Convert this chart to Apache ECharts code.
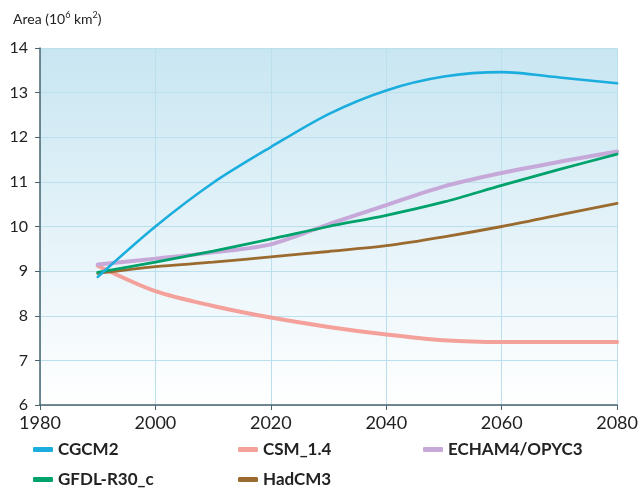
<!DOCTYPE html>
<html><head><meta charset="utf-8">
<script src="https://cdn.jsdelivr.net/npm/echarts@6/dist/echarts.min.js"></script>
<style>html,body{margin:0;padding:0;background:#fff}#c{width:641px;height:502px}</style>
</head><body><div id="c"></div>
<script>
const years = [1990, 2000, 2010, 2020, 2030, 2040, 2050, 2060, 2070, 2080];
const cgcm2 = [8.87, 10.0, 10.98, 11.78, 12.52, 13.05, 13.36, 13.46, 13.34, 13.21];
const csm14 = [9.12, 8.55, 8.22, 7.96, 7.75, 7.58, 7.45, 7.41, 7.41, 7.41];
const echam = [9.15, 9.28, 9.42, 9.6, 10.05, 10.48, 10.9, 11.2, 11.45, 11.68];
const gfdl = [8.97, 9.2, 9.45, 9.72, 10.0, 10.25, 10.55, 10.92, 11.28, 11.62];
const hadcm3 = [8.95, 9.1, 9.2, 9.32, 9.44, 9.57, 9.77, 10.0, 10.26, 10.52];
const xTicks = [1980, 2000, 2020, 2040, 2060, 2080];
const yTicks = [6, 7, 8, 9, 10, 11, 12, 13, 14];

const pairs = arr => years.map((y, i) => [y, arr[i]]);
const chart = echarts.init(document.getElementById('c'));
const font = 'Lato, "Open Sans", sans-serif';
function mk(name, arr, color, w) {
  return { name, type: 'line', data: pairs(arr), smooth: 0.3, showSymbol: false,
    lineStyle: { color, width: w, cap: 'round' }, itemStyle: { color } };
}
const legendPos = [
  ['CGCM2', 28, 436], ['CSM_1.4', 233, 436], ['ECHAM4/OPYC3', 418, 436],
  ['GFDL-R30_c', 28, 466], ['HadCM3', 233, 466]
];
chart.setOption({
  animation: false,
  title: {
    text: '{a|Area (10}{s|6}{a| km}{s|2}{a|)}', left: 8, top: 6,
    textStyle: { fontWeight: 'normal', rich: {
      a: { fontFamily: font, fontSize: 14, color: '#222', fontWeight: 'normal' },
      s: { fontFamily: font, fontSize: 9, color: '#222', fontWeight: 'normal', verticalAlign: 'top', padding: [0, 0, 7, 0] }
    } }
  },
  legend: legendPos.map(([n, l, t]) => ({
    data: [n], left: l, top: t, icon: 'roundRect', itemWidth: 20, itemHeight: 5, itemGap: 8,
    textStyle: { fontFamily: font, fontSize: 17, fontWeight: 'bold', color: '#222' }
  })),
  grid: { left: 40, right: 22, top: 48, bottom: 97, show: true, borderWidth: 0,
    backgroundColor: new echarts.graphic.LinearGradient(0, 0, 0, 1, [
      { offset: 0, color: '#c8e6f2' }, { offset: 1, color: '#ffffff' }]) },
  xAxis: { type: 'value', min: xTicks[0], max: xTicks[xTicks.length - 1], interval: 20,
    axisLine: { lineStyle: { color: '#4a6470', width: 1.5 } },
    axisTick: { show: true, length: 5, lineStyle: { color: '#4a6470' } },
    axisLabel: { fontFamily: font, fontSize: 18, color: '#222', margin: 9, formatter: v => String(v) },
    splitLine: { show: true, lineStyle: { color: '#bcdfee', width: 1 } } },
  yAxis: { type: 'value', min: yTicks[0], max: yTicks[yTicks.length - 1], interval: 1,
    axisLine: { show: true, lineStyle: { color: '#4a6470', width: 1.5 } },
    axisTick: { show: true, length: 5, lineStyle: { color: '#4a6470' } },
    axisLabel: { fontFamily: font, fontSize: 16, color: '#222', margin: 12, formatter: v => String(v) },
    splitLine: { show: true, lineStyle: { color: '#bcdfee', width: 1 } } },
  series: [
    mk('CSM_1.4', csm14, '#f4a19c', 4),
    mk('ECHAM4/OPYC3', echam, '#c6a9d9', 4),
    mk('HadCM3', hadcm3, '#9b6a2f', 2.8),
    mk('GFDL-R30_c', gfdl, '#00a26c', 2.8),
    mk('CGCM2', cgcm2, '#1badde', 2.6)
  ]
});
</script></body></html>
